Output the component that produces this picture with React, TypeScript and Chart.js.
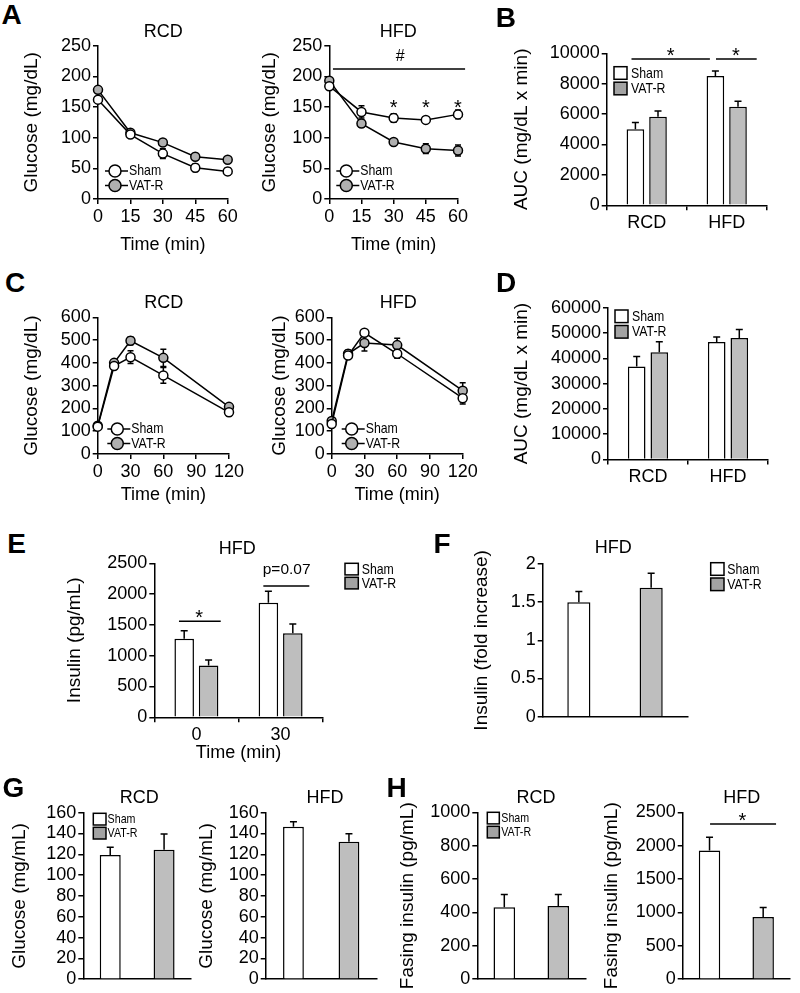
import React, { useEffect, useRef } from 'react';
import { Chart, registerables } from 'chart.js';

Chart.register(...registerables);

const FONT = '"Liberation Sans", Arial, Helvetica, sans-serif';
const GRAY_BAR = '#BEBEBE';
const GRAY_KEY = '#A3A3A3';
const GRAY_PT = '#B0B0B0';
const WHITE = '#FFFFFF';

// ---------------- data ----------------
const groupLabels = ['RCD', 'HFD'];
const seriesNames = ['Sham', 'VAT-R'];
const insulinTimeLabels = ['0', '30'];

// A: insulin tolerance test (glucose, mg/dL)
const ittTime = [0, 15, 30, 45, 60];
const ittRcdSham = [162, 105, 74, 51, 45];
const ittRcdShamErr = [5, 4, 8, 6, 6];
const ittRcdVat = [178, 108, 92, 69, 64];
const ittRcdVatErr = [5, 3, 4, 5, 4];
const ittHfdSham = [184, 142, 132, 129, 138];
const ittHfdShamErr = [4, 10, 7, 5, 7];
const ittHfdVat = [193, 123, 93, 82, 79];
const ittHfdVatErr = [4, 6, 4, 8, 9];

// B: ITT AUC
const ittAucSham = [5000, 8500];
const ittAucShamErr = [440, 330];
const ittAucVat = [5830, 6490];
const ittAucVatErr = [370, 350];

// C: glucose tolerance test
const gttTime = [0, 15, 30, 60, 120];
const gttRcdSham = [120, 386, 425, 345, 183];
const gttRcdShamErr = [6, 12, 28, 35, 15];
const gttRcdVat = [124, 400, 497, 422, 207];
const gttRcdVatErr = [6, 10, 17, 38, 10];
const gttHfdSham = [132, 432, 532, 440, 245];
const gttHfdShamErr = [8, 12, 12, 20, 25];
const gttHfdVat = [145, 440, 487, 478, 278];
const gttHfdVatErr = [8, 15, 35, 30, 35];

// D: GTT AUC
const gttAucSham = [36800, 46400];
const gttAucShamErr = [3900, 2000];
const gttAucVat = [42400, 48000];
const gttAucVatErr = [4100, 3400];

// E: insulin during GTT (HFD)
const insSham = [1277, 1861];
const insShamErr = [130, 184];
const insVat = [839, 1364];
const insVatErr = [92, 151];

// F: insulin fold increase (HFD)
const foldVals = [1.5, 1.69];
const foldErr = [0.14, 0.19];

// G: fasting glucose
const fastGluRcd = [119.4, 124.5];
const fastGluRcdErr = [7.3, 15];
const fastGluHfd = [146.6, 132.2];
const fastGluHfdErr = [4.8, 7.6];

// H: fasting insulin
const fastInsRcd = [431, 439];
const fastInsRcdErr = [76, 68];
const fastInsHfd = [1926, 933];
const fastInsHfdErr = [200, 140];

// significance annotations (data coordinates)
const ittHfdHashLine = { x1: 1.7, x2: 63.3, y: 212 };
const ittHfdHash = { x: 33, y: 231.6, text: '#' };
const ittHfdStarTimes = [30, 45, 60];
const ittHfdStarY = 146.8;
const aucStarLines = [
  { x1: -0.19, x2: 0.79, y: 9625 },
  { x1: 0.866, x2: 1.375, y: 9625 },
];
const aucStars = [
  { x: 0.3, y: 9822, text: '*' },
  { x: 1.116, y: 9822, text: '*' },
];
const insSigLines = [
  { x1: -0.207, x2: 0.289, y: 1558 },
  { x1: 0.795, x2: 1.341, y: 2131 },
];
const insSigTexts = [
  { x: 0.034, y: 1607, text: '*', size: 20 },
  { x: 1.072, y: 2391, text: 'p=0.07', size: 15.5 },
];
const fastInsHfdLine = { x1: 0.01, x2: 1.24, y: 2325 };
const fastInsHfdStar = { x: 0.611, y: 2359, text: '*' };

// ---------------- helpers ----------------
type Geo = { cl: number; ct: number; cw: number; ch: number; yw: number; xh: number; pt: number; pr: number };

function makeGeo(area: number[], yTitleX: number, bottom: number, right: number): Geo {
  const [L, T, R, B] = area;
  const cl = Math.floor(yTitleX - 11.4);
  const ct = Math.floor(T - 14);
  const cr = Math.ceil(right);
  const cb = Math.ceil(bottom);
  return { cl, ct, cw: cr - cl, ch: cb - ct, yw: L - cl, xh: cb - B, pt: T - ct, pr: cr - R };
}

const tickFont = { family: FONT, size: 18, weight: 'normal' as const };
const yTitleFont = { family: FONT, size: 19, weight: 'normal' as const };
const xTitleFont = { family: FONT, size: 18, weight: 'normal' as const };

const gridOpts = (ticks: boolean, offset?: boolean) => ({
  offset: offset,
  drawOnChartArea: false,
  drawTicks: ticks,
  tickLength: 5,
  tickColor: '#000',
  tickWidth: 1.5,
  color: '#000',
  lineWidth: 1.5,
});
const borderOpts = { display: true, color: '#000', width: 1.5 };

function yAxis(g: Geo, max: number, step: number, title: string) {
  return {
    type: 'linear',
    min: 0,
    max,
    ticks: { stepSize: step, autoSkip: false, color: '#000', font: tickFont, padding: 2, callback: (v: any) => String(v) },
    grid: gridOpts(true),
    border: borderOpts,
    title: { display: true, text: title, color: '#000', font: yTitleFont, padding: 0 },
    afterFit: (s: any) => {
      s.width = g.yw;
    },
  };
}

function xLinear(g: Geo, max: number, step: number) {
  return {
    type: 'linear',
    min: 0,
    max,
    ticks: { stepSize: step, color: '#000', font: tickFont, padding: 2, maxRotation: 0, autoSkip: false },
    grid: gridOpts(true),
    border: borderOpts,
    title: { display: true, text: 'Time (min)', color: '#000', font: xTitleFont, padding: 0 },
    afterFit: (s: any) => {
      s.height = g.xh;
    },
  };
}

function xCat(g: Geo, show: boolean, title?: string) {
  return {
    type: 'category',
    ticks: { display: show, color: '#000', font: tickFont, padding: 2, maxRotation: 0, autoSkip: false },
    grid: gridOpts(show, true),
    border: borderOpts,
    title: { display: !!title, text: title || '', color: '#000', font: xTitleFont, padding: 0 },
    afterFit: (s: any) => {
      s.height = g.xh;
    },
  };
}

function baseOptions(g: Geo, scales: any) {
  return {
    responsive: false,
    animation: false,
    events: [],
    layout: { padding: { left: 0, top: g.pt, right: g.pr, bottom: 0 } },
    plugins: { legend: { display: false }, tooltip: { enabled: false }, title: { display: false } },
    scales,
  };
}

function errorPlugin(errors: number[][], both: boolean, cap: number) {
  return {
    id: 'errBars',
    beforeDatasetsDraw(chart: any) {
      const ctx = chart.ctx;
      const ys = chart.scales.y;
      ctx.save();
      ctx.strokeStyle = '#000';
      ctx.lineWidth = 1.5;
      chart.data.datasets.forEach((ds: any, di: number) => {
        const e = errors[di];
        if (!e) return;
        const meta = chart.getDatasetMeta(di);
        meta.data.forEach((el: any, i: number) => {
          const raw = ds.data[i];
          const v = typeof raw === 'number' ? raw : raw.y;
          const x = el.x;
          const y0 = ys.getPixelForValue(v);
          const yUp = ys.getPixelForValue(v + e[i]);
          const yDn = both ? ys.getPixelForValue(v - e[i]) : y0;
          ctx.beginPath();
          ctx.moveTo(x, yDn);
          ctx.lineTo(x, yUp);
          ctx.moveTo(x - cap, yUp);
          ctx.lineTo(x + cap, yUp);
          if (both) {
            ctx.moveTo(x - cap, yDn);
            ctx.lineTo(x + cap, yDn);
          }
          ctx.stroke();
        });
      });
      ctx.restore();
    },
  };
}

type ALine = { x1: number; x2: number; y: number };
type AText = { x: number; y: number; text: string; size?: number };

function annotPlugin(lines: ALine[], texts: AText[]) {
  return {
    id: 'annot',
    afterDraw(chart: any) {
      const ctx = chart.ctx;
      const xs = chart.scales.x;
      const ys = chart.scales.y;
      ctx.save();
      ctx.strokeStyle = '#000';
      ctx.lineWidth = 1.5;
      lines.forEach((l) => {
        const y = ys.getPixelForValue(l.y);
        ctx.beginPath();
        ctx.moveTo(xs.getPixelForValue(l.x1), y);
        ctx.lineTo(xs.getPixelForValue(l.x2), y);
        ctx.stroke();
      });
      ctx.fillStyle = '#000';
      ctx.textAlign = 'center';
      ctx.textBaseline = 'middle';
      texts.forEach((t) => {
        ctx.font = `${t.size || 20}px ${FONT}`;
        ctx.fillText(t.text, xs.getPixelForValue(t.x), ys.getPixelForValue(t.y));
      });
      ctx.restore();
    },
  };
}

function lineLegendPlugin(g: Geo, x0: number, rows: number[], fills: string[]) {
  return {
    id: 'lineLegend',
    afterDraw(chart: any) {
      const ctx = chart.ctx;
      ctx.save();
      seriesNames.forEach((lab, i) => {
        const x = x0 - g.cl;
        const y = rows[i] - g.ct;
        ctx.strokeStyle = '#000';
        ctx.lineWidth = 1.5;
        ctx.beginPath();
        ctx.moveTo(x, y);
        ctx.lineTo(x + 23, y);
        ctx.stroke();
        ctx.beginPath();
        ctx.arc(x + 10, y, 6, 0, Math.PI * 2);
        ctx.fillStyle = fills[i];
        ctx.fill();
        ctx.stroke();
        ctx.fillStyle = '#000';
        ctx.font = `15px ${FONT}`;
        ctx.textBaseline = 'middle';
        ctx.textAlign = 'left';
        ctx.save();
        ctx.translate(x + 24, y);
        ctx.scale(0.82, 1);
        ctx.fillText(lab, 0, 0);
        ctx.restore();
      });
      ctx.restore();
    },
  };
}

function boxLegendPlugin(g: Geo, x0: number, y0: number, w: number, h: number, step: number, textDx: number, size: number) {
  const fills = [WHITE, GRAY_KEY];
  return {
    id: 'boxLegend',
    afterDraw(chart: any) {
      const ctx = chart.ctx;
      ctx.save();
      seriesNames.forEach((lab, i) => {
        const x = x0 - g.cl;
        const y = y0 + i * step - g.ct;
        ctx.fillStyle = fills[i];
        ctx.fillRect(x, y, w, h);
        ctx.strokeStyle = '#000';
        ctx.lineWidth = 1.5;
        ctx.strokeRect(x, y, w, h);
        ctx.fillStyle = '#000';
        ctx.font = `${size}px ${FONT}`;
        ctx.textBaseline = 'middle';
        ctx.textAlign = 'left';
        ctx.save();
        ctx.translate(x + textDx, y + h / 2 + 0.5);
        ctx.scale(0.82, 1);
        ctx.fillText(lab, 0, 0);
        ctx.restore();
      });
      ctx.restore();
    },
  };
}

function lineDs(label: string, xs: number[], ys: number[], fill: string) {
  return {
    label,
    data: xs.map((x, i) => ({ x, y: ys[i] })),
    borderColor: '#000',
    borderWidth: 1.5,
    pointRadius: 4.5,
    pointBorderWidth: 1.5,
    pointBackgroundColor: fill,
    pointBorderColor: '#000',
    tension: 0,
    clip: false,
  };
}

function barDs(label: string, vals: number[], color: any, cat: number, bar: number) {
  return {
    label,
    data: vals,
    backgroundColor: color,
    borderColor: '#000',
    borderWidth: 1.5,
    categoryPercentage: cat,
    barPercentage: bar,
  };
}

// ---------------- panels ----------------
type Panel = { g: Geo; make: () => any };

function ittPanel(area: number[], yTitleX: number, sham: number[], shamErr: number[], vat: number[], vatErr: number[], legendX: number, hfd: boolean): Panel {
  const g = makeGeo(area, yTitleX, 245 + 10.8, area[2] + 22);
  const plugins: any[] = [errorPlugin([shamErr, vatErr], true, 3), lineLegendPlugin(g, legendX, [171, 185.5], [WHITE, GRAY_PT])];
  if (hfd) {
    plugins.push(
      annotPlugin(
        [ittHfdHashLine],
        [{ ...ittHfdHash, size: 16 }, ...ittHfdStarTimes.map((t) => ({ x: t, y: ittHfdStarY, text: '*', size: 20 }))]
      )
    );
  }
  return {
    g,
    make: () => ({
      type: 'line',
      data: { datasets: [lineDs('Sham', ittTime, sham, WHITE), lineDs('VAT-R', ittTime, vat, GRAY_PT)] },
      options: baseOptions(g, { x: xLinear(g, 60, 15), y: yAxis(g, 250, 50, 'Glucose (mg/dL)') }),
      plugins,
    }),
  };
}

function gttPanel(area: number[], yTitleX: number, sham: number[], shamErr: number[], vat: number[], vatErr: number[], legendX: number): Panel {
  const g = makeGeo(area, yTitleX, 495 + 10.8, area[2] + 22);
  return {
    g,
    make: () => ({
      type: 'line',
      data: { datasets: [lineDs('Sham', gttTime, sham, WHITE), lineDs('VAT-R', gttTime, vat, GRAY_PT)] },
      options: baseOptions(g, { x: xLinear(g, 120, 30), y: yAxis(g, 600, 100, 'Glucose (mg/dL)') }),
      plugins: [errorPlugin([shamErr, vatErr], true, 3), lineLegendPlugin(g, legendX, [429, 443.5], [WHITE, GRAY_PT])],
    }),
  };
}

function aucPanel(area: number[], sham: number[], shamErr: number[], vat: number[], vatErr: number[], max: number, step: number, legend: number[], stars: boolean): Panel {
  const g = makeGeo(area, 521.7, area[3] + 32, area[2] + 20);
  const plugins: any[] = [errorPlugin([shamErr, vatErr], false, 3.5), boxLegendPlugin(g, legend[0], legend[1], 13, 12.6, 15.5, 17, 15)];
  if (stars) plugins.push(annotPlugin(aucStarLines, aucStars));
  return {
    g,
    make: () => ({
      type: 'bar',
      data: { labels: groupLabels, datasets: [barDs('Sham', sham, WHITE, 0.565, 0.78), barDs('VAT-R', vat, GRAY_BAR, 0.565, 0.78)] },
      options: baseOptions(g, { x: xCat(g, true), y: yAxis(g, max, step, 'AUC (mg/dL x min)') }),
      plugins,
    }),
  };
}

function pairPanel(area: number[], yTitleX: number, vals: number[], errs: number[], max: number, step: number, title: string, barPct: number, right: number, bottomPad: number, extra: any[]): Panel {
  const g = makeGeo(area, yTitleX, area[3] + bottomPad, right);
  return {
    g,
    make: () => ({
      type: 'bar',
      data: { labels: seriesNames, datasets: [barDs('value', vals, [WHITE, GRAY_BAR], 1, barPct)] },
      options: baseOptions(g, { x: xCat(g, false), y: yAxis(g, max, step, title) }),
      plugins: [errorPlugin([errs], false, 3.5), ...extra.map((f) => f(g))],
    }),
  };
}

const panelA1 = ittPanel([98, 45.7, 227.7, 199], 31.7, ittRcdSham, ittRcdShamErr, ittRcdVat, ittRcdVatErr, 105, false);
const panelA2 = ittPanel([329.3, 45.7, 458, 199], 270, ittHfdSham, ittHfdShamErr, ittHfdVat, ittHfdVatErr, 336.3, true);
const panelB = aucPanel([606.7, 53.3, 766.7, 205.3], ittAucSham, ittAucShamErr, ittAucVat, ittAucVatErr, 10000, 2000, [614, 66.7], true);
const panelC1 = gttPanel([97.7, 317.3, 229, 454], 31.7, gttRcdSham, gttRcdShamErr, gttRcdVat, gttRcdVatErr, 107.3);
const panelC2 = gttPanel([331.7, 317.3, 462.7, 454], 280, gttHfdSham, gttHfdShamErr, gttHfdVat, gttHfdVatErr, 341.7);
const panelD = aucPanel([608, 307.7, 768, 459.5], gttAucSham, gttAucShamErr, gttAucVat, gttAucVatErr, 60000, 10000, [615, 310], false);

const panelE: Panel = (() => {
  const g = makeGeo([154.3, 563.3, 322.7, 717.3], 75, 753 + 10.8, 410);
  return {
    g,
    make: () => ({
      type: 'bar',
      data: { labels: insulinTimeLabels, datasets: [barDs('Sham', insSham, WHITE, 0.58, 0.8), barDs('VAT-R', insVat, GRAY_BAR, 0.58, 0.8)] },
      options: baseOptions(g, { x: xCat(g, true, 'Time (min)'), y: yAxis(g, 2500, 500, 'Insulin (pg/mL)') }),
      plugins: [errorPlugin([insShamErr, insVatErr], false, 3.5), boxLegendPlugin(g, 345, 563.3, 13.3, 11.6, 14, 16.7, 15), annotPlugin(insSigLines, insSigTexts)],
    }),
  };
})();

const panelF = pairPanel([542.7, 564, 687.3, 716.7], 481.7, foldVals, foldErr, 2, 0.5, 'Insulin (fold increase)', 0.32, 790, 14, [
  (g: Geo) => boxLegendPlugin(g, 710.7, 562.7, 13.3, 12.6, 15.3, 16.6, 15),
]);
const panelG1 = pairPanel([83.3, 812.7, 191, 979.3], 20, fastGluRcd, fastGluRcdErr, 160, 20, 'Glucose (mg/mL)', 0.39, 206, 12, [
  (g: Geo) => boxLegendPlugin(g, 93.3, 813.3, 12.7, 11.7, 14, 14.3, 13),
]);
const panelG2 = pairPanel([265.7, 812.7, 376.7, 979.3], 206.7, fastGluHfd, fastGluHfdErr, 160, 20, 'Glucose (mg/mL)', 0.375, 392, 12, []);
const panelH1 = pairPanel([477.3, 812.3, 585.3, 979.3], 408.3, fastInsRcd, fastInsRcdErr, 1000, 200, 'Fasing insulin (pg/mL)', 0.4, 600, 12, [
  (g: Geo) => boxLegendPlugin(g, 487.3, 812.3, 12, 11.6, 14, 14, 13),
]);
const panelH2 = pairPanel([682.7, 812.3, 790, 979.3], 611.7, fastInsHfd, fastInsHfdErr, 2500, 500, 'Fasing insulin (pg/mL)', 0.4, 800, 12, [
  () => annotPlugin([fastInsHfdLine], [fastInsHfdStar]),
]);

const panels: Panel[] = [panelA1, panelA2, panelB, panelC1, panelC2, panelD, panelE, panelF, panelG1, panelG2, panelH1, panelH2];

const titles = [
  { t: 'RCD', x: 163.3, y: 31 },
  { t: 'HFD', x: 398.3, y: 31 },
  { t: 'RCD', x: 163.8, y: 301.7 },
  { t: 'HFD', x: 398.3, y: 301.7 },
  { t: 'HFD', x: 237.3, y: 548.3 },
  { t: 'HFD', x: 613.3, y: 546.7 },
  { t: 'RCD', x: 139.3, y: 796.7 },
  { t: 'HFD', x: 325, y: 796.7 },
  { t: 'RCD', x: 536, y: 796.7 },
  { t: 'HFD', x: 741.7, y: 796.7 },
];
const letters = [
  { t: 'A', x: 11.7, y: 15 },
  { t: 'B', x: 505.8, y: 17.5 },
  { t: 'C', x: 15, y: 282.5 },
  { t: 'D', x: 506, y: 282.5 },
  { t: 'E', x: 16.7, y: 544 },
  { t: 'F', x: 442, y: 544 },
  { t: 'G', x: 13.3, y: 788 },
  { t: 'H', x: 396.5, y: 788 },
];

function ChartCanvas({ panel }: { panel: Panel }) {
  const ref = useRef<HTMLCanvasElement>(null);
  useEffect(() => {
    if (!ref.current) return;
    const chart = new Chart(ref.current, panel.make());
    return () => chart.destroy();
  }, [panel]);
  const g = panel.g;
  return (
    <canvas
      ref={ref}
      width={g.cw}
      height={g.ch}
      style={{ position: 'absolute', left: g.cl, top: g.ct, width: g.cw, height: g.ch }}
    />
  );
}

function Label({ x, y, t, size, bold }: { x: number; y: number; t: string; size: number; bold?: boolean }) {
  return (
    <div
      style={{
        position: 'absolute',
        left: x,
        top: y,
        transform: 'translate(-50%, -50%)',
        fontFamily: FONT,
        fontSize: size,
        fontWeight: bold ? 'bold' : 'normal',
        lineHeight: 1,
        whiteSpace: 'nowrap',
        color: '#000',
      }}
    >
      {t}
    </div>
  );
}

export default function App() {
  return (
    <div style={{ position: 'absolute', left: 0, top: 0, width: 800, height: 993, background: '#fff', overflow: 'hidden' }}>
      {panels.map((p, i) => (
        <ChartCanvas key={i} panel={p} />
      ))}
      {titles.map((t, i) => (
        <Label key={'t' + i} x={t.x} y={t.y} t={t.t} size={18} />
      ))}
      {letters.map((t, i) => (
        <Label key={'l' + i} x={t.x} y={t.y} t={t.t} size={28} bold />
      ))}
    </div>
  );
}
